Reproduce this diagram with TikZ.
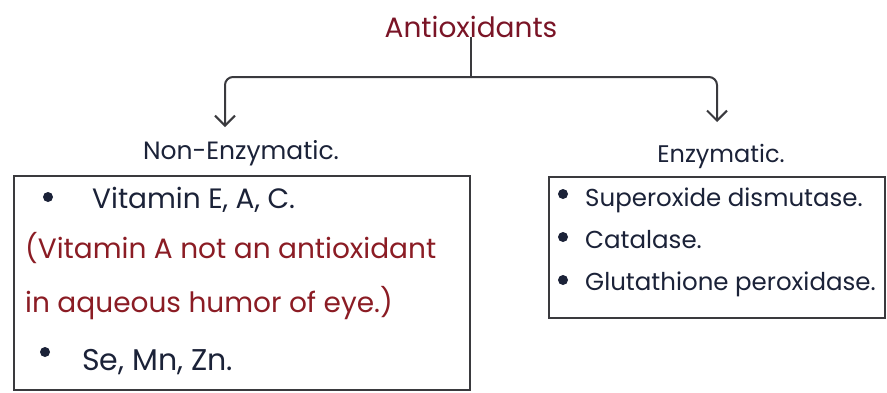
\documentclass[tikz,border=0pt]{standalone}
\usepackage{fontspec}
\setmainfont{Poppins}
\usetikzlibrary{arrows.meta}
\definecolor{titlered}{HTML}{7A1426}
\definecolor{notered}{HTML}{8B1C24}
\definecolor{inkblue}{HTML}{1B2238}
\definecolor{inkgray}{HTML}{3A3A3E}

\begin{document}
\begin{tikzpicture}[
  x=1pt, y=-1pt,
  box/.style={draw=inkgray, line width=1.3pt, inner sep=0pt},
  branch/.style={draw=inkgray, line width=2pt, rounded corners=8pt},
  tip/.style={-{Straight Barb[length=10pt,width=20pt,line width=2pt]}},
  head/.style={font=\fontsize{24}{28}\selectfont, inner sep=0pt, anchor=base},
  item/.style={font=\fontsize{24.5}{28}\selectfont, text=inkblue, inner sep=0pt, anchor=base west},
  big/.style={font=\fontsize{28}{32}\selectfont},
  note/.style={item, big, text=notered},
  dot/.style={circle, fill=inkblue, inner sep=0pt, minimum size=10pt}
]
\useasboundingbox[fill=white] (0,0) rectangle (887,392);

% Root and branches
\node[head, big, text=titlered] (title) at (471,37) {Antioxidants};
\coordinate (split) at (471,77);
\coordinate (ltip) at (225,127);
\coordinate (rtip) at (717,122);

\draw[branch] (title.south) -- (split);
\draw[branch, tip] (split) -| (ltip);
\draw[branch, tip] (split) -| (rtip);

% Group headings
\node[head, text=inkblue, font=\fontsize{25}{28}\selectfont] (nonenz) at (241,159) {Non-Enzymatic.};
\node[head, text=inkblue] (enz) at (721,162) {Enzymatic.};

% Non-enzymatic box
\node[box, minimum width=456pt, minimum height=214pt] (nonbox) at (242,283) {};
\node[dot] (d1) at (48,197) {};
\node[item, big] (vit) at (92,208) {Vitamin E, A, C.};
\node[note] (note1) at (25,258) {(Vitamin A not an antioxidant};
\node[note] (note2) at (25,312) {in aqueous humor of eye.)};
\node[dot] (d2) at (45,352) {};
\node[item, font=\fontsize{30}{34}\selectfont] (min) at (82,370) {Se, Mn, Zn.};

% Enzymatic box
\node[box, minimum width=336pt, minimum height=141pt] (enzbox) at (717,247.5) {};
\node[dot] (d3) at (563,194) {};
\node[item] (sod) at (585,206) {Superoxide dismutase.};
\node[dot] (d4) at (563,237) {};
\node[item] (cat) at (585,248) {Catalase.};
\node[dot] (d5) at (563,280) {};
\node[item] (gpx) at (585,290) {Glutathione peroxidase.};

\end{tikzpicture}
\end{document}
